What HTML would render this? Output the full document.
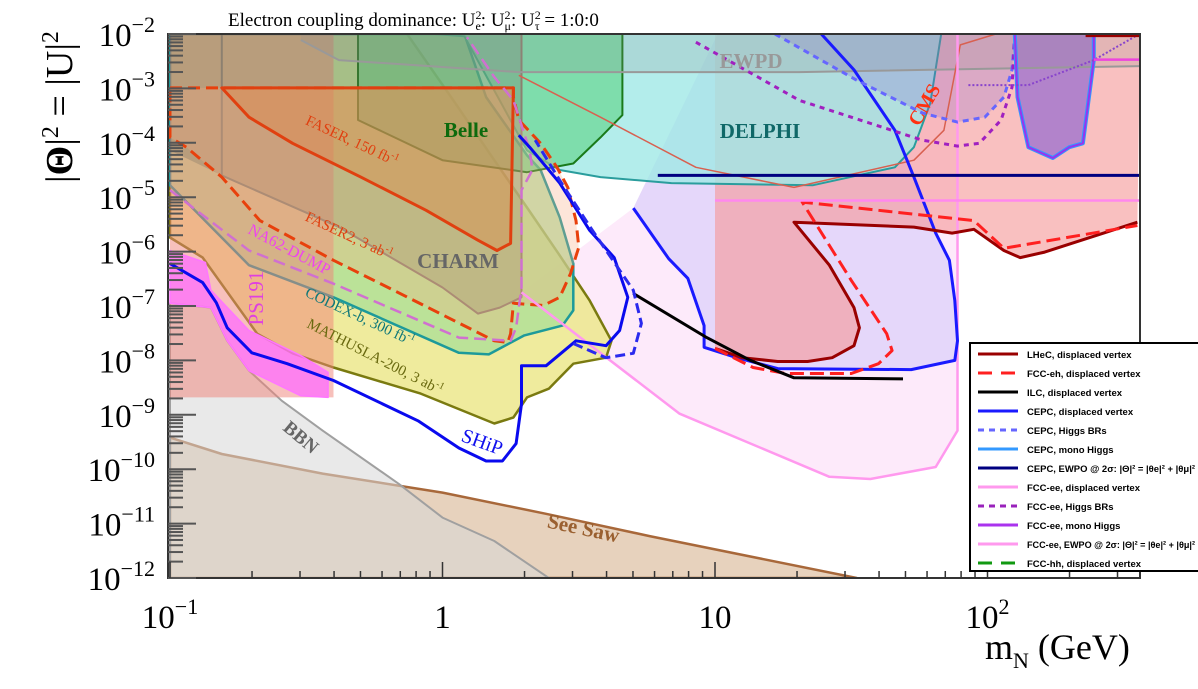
<!DOCTYPE html>
<html><head><meta charset="utf-8"><style>
html,body{margin:0;padding:0;background:#fff;}
svg{display:block;font-family:"Liberation Serif",serif;}
.leg{font-family:"Liberation Sans",sans-serif;font-weight:bold;font-size:9.5px;fill:#000;}
</style></head><body>
<svg id="chart" width="1198" height="689" viewBox="0 0 1198 689" xmlns="http://www.w3.org/2000/svg">
<rect x="0" y="0" width="1198" height="689" fill="#fff"/>
<defs><clipPath id="plotclip"><rect x="168" y="34" width="972" height="544"/></clipPath></defs>
<g id="regions" clip-path="url(#plotclip)"></g>
<g id="axes"></g>
<g id="labels">
<text x="350" y="145" transform="rotate(25 350 145)" text-anchor="middle" font-size="15" fill="#e04010">FASER, 150 fb<tspan font-size="10" dy="-6">-1</tspan></text>
<text x="347" y="240" transform="rotate(25 347 240)" text-anchor="middle" font-size="15" fill="#e04010">FASER2, 3 ab<tspan font-size="10" dy="-6">-1</tspan></text>
<text x="287" y="254" transform="rotate(28 287 254)" text-anchor="middle" font-size="16" fill="#ee44ee">NA62-DUMP</text>
<text x="358" y="321" transform="rotate(25 358 321)" text-anchor="middle" font-size="15" fill="#107878">CODEX-b, 300 fb<tspan font-size="10" dy="-6">-1</tspan></text>
<text x="373" y="361" transform="rotate(27 373 361)" text-anchor="middle" font-size="15" fill="#6a6a10">MATHUSLA-200, 3 ab<tspan font-size="10" dy="-6">-1</tspan></text>
<text x="263" y="298" transform="rotate(-90 263 298)" text-anchor="middle" font-size="21" fill="#e040e0">PS191</text>
<text x="458" y="268" text-anchor="middle" font-size="21" font-weight="bold" fill="#666">CHARM</text>
<text x="466" y="137" text-anchor="middle" font-size="21" font-weight="bold" fill="#0d6a0d">Belle</text>
<text x="760" y="138" text-anchor="middle" font-size="21" font-weight="bold" fill="#106868">DELPHI</text>
<text x="751" y="68" text-anchor="middle" font-size="21" font-weight="bold" fill="#999">EWPD</text>
<text x="930" y="108" transform="rotate(-60 930 108)" text-anchor="middle" font-size="20" font-weight="bold" fill="#ff3010">CMS</text>
<text x="297" y="442" transform="rotate(40 297 442)" text-anchor="middle" font-size="19" font-weight="bold" fill="#666">BBN</text>
<text x="582" y="535" transform="rotate(12 582 535)" text-anchor="middle" font-size="21" font-weight="bold" fill="#9a6030">See Saw</text>
<text x="480" y="448" transform="rotate(20 480 448)" text-anchor="middle" font-size="20" fill="#1010ee">SHiP</text>
</g>
<text x="228" y="26" font-size="19" fill="#000">Electron coupling dominance: U<tspan font-size="12" dy="-7">2</tspan><tspan font-size="12" dx="-6" dy="11">e</tspan><tspan dy="-4">: U</tspan><tspan font-size="12" dy="-7">2</tspan><tspan font-size="12" dx="-6" dy="11">μ</tspan><tspan dy="-4">: U</tspan><tspan font-size="12" dy="-7">2</tspan><tspan font-size="12" dx="-6" dy="11">τ</tspan><tspan dy="-4"> = 1:0:0</tspan></text>
<text x="72" y="107" transform="rotate(-90 72 107)" text-anchor="middle" font-size="38" fill="#000">|<tspan font-weight="bold">Θ</tspan>|<tspan font-size="24" dy="-14">2</tspan><tspan dy="14"> = |U|</tspan><tspan font-size="24" dy="-14">2</tspan></text>
<text x="985" y="659" font-size="36" fill="#000">m<tspan font-size="22" dy="9">N</tspan><tspan dy="-9"> (GeV)</tspan></text>
<g id="legend"></g>
</svg>
<script>
// ---- data (log10 mass [GeV], log10 |U|^2) ----
const seesawLm=[-1,-0.81,-0.44,0.0,0.38,0.76,1.52];
const seesawLe=[-9.42,-9.72,-10.08,-10.43,-10.82,-11.23,-12];
const bbnLm=[-1,-0.85,-0.79,-0.71,-0.59,-0.44,-0.16,0.0,0.19,0.39,-1];
const bbnLe=[-6.95,-7.03,-7.64,-8.19,-8.74,-9.29,-10.27,-10.89,-11.32,-12,-12];
const ps191Lm=[-1,-0.87,-0.85,-0.71,-0.52,-0.42,-0.42,-0.52,-0.71,-0.79,-0.85,-1];
const ps191Le=[-5.98,-6.2,-6.71,-7.45,-7.91,-8.22,-8.68,-8.65,-8.19,-7.64,-7.03,-6.95];
const columnLm=[-1,-0.40,-0.40,-1];
const columnLe=[-2,-2,-8.68,-8.68];
const codexLm=[-1,-0.71,-0.40,0.06,0.17,0.30,0.44,0.48,0.48,0.43,0.36,0.31,0.16,0.08,-1];
const codexLe=[-4.78,-6.25,-6.84,-7.86,-7.89,-7.54,-7.36,-7.08,-6.22,-5.37,-4.5,-4.23,-3.16,-2,-2];
const mathLm=[-1,-0.88,-0.68,-0.55,-0.40,-0.08,0.19,0.26,0.31,0.39,0.48,0.60,0.62,0.54,0.43,0.31,0.19,0.04,-0.13,-1];
const mathLe=[-5.74,-6.11,-7.51,-7.87,-8.13,-8.61,-9.16,-9.05,-8.68,-8.52,-8.06,-7.95,-7.64,-6.9,-6.07,-5.19,-4.32,-3.22,-2,-2];
const charmLm=[-1,0.29,0.29,0.21,0.13,0.0,-0.38,-0.81,-1];
const charmLe=[-2,-2,-6.84,-7.03,-7.14,-6.66,-5.55,-4.6,-4.14];
const charmEdgeLm=[-0.81,-0.81,-0.38,0.0,0.13,0.21,0.29,0.29];
const charmEdgeLe=[-2,-4.6,-5.55,-6.66,-7.14,-7.03,-6.84,-2];
const faser2Lm=[-1,0.26,0.26,0.28,0.36,0.42,0.46,0.49,0.50,0.47,0.43,0.37,0.26,0.25,0.24,0.19,-0.18,-0.40,-0.67,-0.81,-0.94,-1];
const faser2Le=[-2.99,-2.99,-3.16,-3.58,-4.01,-4.45,-4.82,-5.43,-5.92,-6.4,-6.84,-6.99,-6.95,-7.51,-7.67,-7.64,-6.71,-6.16,-5.43,-4.63,-4.08,-3.9];
const faserLm=[-0.81,0.26,0.25,0.20,0.13,-0.06,-0.30,-0.55,-0.71];
const faserLe=[-2.99,-2.99,-5.85,-5.98,-5.79,-5.24,-4.63,-4.01,-3.53];
const belleLm=[-0.31,-0.31,0.0,0.31,0.48,0.58,0.66,0.66];
const belleLe=[-2,-3.58,-4.32,-4.54,-4.38,-3.9,-3.49,-2];
const delphiLm=[-0.03,0.08,0.21,0.31,0.43,0.58,0.84,1.36,1.66,1.73,1.79,1.83];
const delphiLe=[-2,-2.04,-3.22,-4.14,-4.5,-4.63,-4.74,-4.78,-4.45,-4.08,-3.27,-2];
const ewpdLm=[-0.52,-0.38,0.28,1.31,2.56];
const ewpdLe=[-2.11,-2.48,-2.7,-2.7,-2.59];
const cmsLm=[0.28,0.58,0.93,1.29,1.73,1.84,1.90,2.03];
const cmsLe=[-2.76,-3.53,-4.45,-4.82,-4.32,-3.77,-2.2,-2];
const fccDvLm=[0.29,0.87,1.42,1.57,1.81,1.89,1.89,1.01,0.70];
const fccDvLe=[-6.75,-8.98,-10.14,-10.18,-9.96,-9.29,-2,-2,-5.2];
const cepcDvLm=[0.70,0.83,0.90,0.96,0.96,1.08,1.23,1.72,1.88,1.89,1.88,1.86,1.81,1.73,1.66,1.51,1.39];
const cepcDvLe=[-5.2,-6.13,-6.49,-7.36,-7.76,-7.95,-8.15,-8.17,-8.0,-7.64,-6.9,-6.16,-5.66,-4.63,-3.77,-2.66,-2];
const ehFillLm=[1.0,2.56,2.55,2.21,2.12,2.06,1.95,1.87,1.73,1.29,1.42,1.51,1.53,1.51,1.43,1.34,1.23,1.10,1.0];
const ehFillLe=[-2,-2,-5.46,-6.01,-6.11,-5.98,-5.59,-5.66,-5.55,-5.46,-6.25,-7.03,-7.4,-7.73,-7.95,-8.02,-8.02,-7.95,-7.78];
const lhecLm=[1.0,1.10,1.23,1.34,1.43,1.51,1.53,1.51,1.42,1.29,1.73,1.87,1.95,2.06,2.12,2.21,2.55];
const lhecLe=[-7.78,-7.95,-8.02,-8.02,-7.95,-7.73,-7.4,-7.03,-6.25,-5.46,-5.55,-5.66,-5.59,-5.98,-6.11,-6.01,-5.46];
const fccehLm=[1.0,1.14,1.26,1.50,1.60,1.65,1.63,1.50,1.32,1.95,2.06,2.55];
const fccehLe=[-7.78,-8.13,-8.24,-8.24,-8.06,-7.82,-7.51,-6.53,-5.09,-5.43,-5.94,-5.52];
const ilcLm=[0.70,0.97,1.13,1.29,1.69];
const ilcLe=[-6.77,-7.58,-8.0,-8.32,-8.34];
const cepcEwpoLm=[0.79,2.56];
const cepcEwpoLe=[-4.6,-4.6];
const fccEwpoLm=[1.0,2.56];
const fccEwpoLe=[-5.06,-5.06];
const cepcHbrLm=[1.22,1.52,1.76,1.89,1.99,2.06,2.09,2.10];
const cepcHbrLe=[-2,-2.85,-3.45,-3.62,-3.53,-3.16,-2.66,-2];
const fccHbrLm=[0.93,1.31,1.76,1.89,1.97,2.05,2.09,2.10];
const fccHbrLe=[-2.15,-3.22,-3.95,-4.06,-4.01,-3.58,-2.98,-2];
const monoLm=[2.10,2.11,2.15,2.24,2.30,2.35,2.39,2.39];
const monoLe=[-2,-3.16,-4.08,-4.28,-4.08,-4.01,-2.48,-2];
const dotHLm=[1.93,2.15,2.39,2.55];
const dotHLe=[-2.94,-2.94,-2.48,-2.02];
const shipLm=[-1,-0.88,-0.83,-0.79,-0.70,-0.57,-0.40,-0.09,0.06,0.16,0.22,0.27,0.29,0.29,0.38,0.49,0.60,0.65,0.68,0.63,0.54,0.43,0.32,0.28];
const shipLe=[-6.22,-6.57,-6.94,-7.4,-7.86,-8.06,-8.37,-9.11,-9.61,-9.85,-9.85,-9.53,-8.8,-8.1,-8.1,-7.64,-7.73,-7.45,-6.84,-6.11,-5.61,-4.74,-4.08,-3.86];
const shipDLm=[0.48,0.60,0.70,0.73,0.70,0.55,0.43,0.34];
const shipDLe=[-7.69,-7.95,-7.87,-7.32,-6.71,-5.61,-4.69,-3.95];
const na62Lm=[-1,-0.71,-0.40,0.06,0.25,0.27,0.29,0.29,0.33,0.32,0.26,0.19,0.09];
const na62Le=[-4.87,-5.98,-6.59,-7.58,-7.64,-7.4,-6.66,-4.87,-4.5,-4.14,-3.22,-2.79,-2.06];
const yTickExps=[-2,-3,-4,-5,-6,-7,-8,-9,-10,-11,-12];
const xTickLabels=["10^-1","1","10","10^2"];
const xTickLm=[-1,0,1,2];
const legendLabels=["LHeC, displaced vertex","FCC-eh, displaced vertex","ILC, displaced vertex","CEPC, displaced vertex","CEPC, Higgs BRs","CEPC, mono Higgs","CEPC, EWPO @ 2σ: |Θ|² = |θe|² + |θμ|²","FCC-ee, displaced vertex","FCC-ee, Higgs BRs","FCC-ee, mono Higgs","FCC-ee, EWPO @ 2σ: |Θ|² = |θe|² + |θμ|²","FCC-hh, displaced vertex"];

// ---- axes ----
const X0=170, DX=272.5, Y0=34, DY=54.4;
function X(lm){return X0+DX*(lm+1);}
function Y(le){return Y0+DY*(-2-le);}
const NS="http://www.w3.org/2000/svg";
const gR=document.getElementById('regions');
function pts(lms,les){return lms.map((m,i)=>X(m).toFixed(1)+','+Y(les[i]).toFixed(1)).join(' ');}
function shape(tag,lms,les,fill,stroke,w,dash,name){
  const el=document.createElementNS(NS,tag);
  el.setAttribute('points',pts(lms,les));
  el.setAttribute('fill',fill);
  el.setAttribute('stroke',stroke);
  el.setAttribute('stroke-width',w);
  if(dash)el.setAttribute('stroke-dasharray',dash);
  el.setAttribute('stroke-linejoin','round');
  
  
  gR.appendChild(el);return el;
}
shape('polygon',fccDvLm,fccDvLe,'rgba(252,225,248,0.7)','none',0,null,'fcc-ee-displaced-region');
shape('polygon',cepcDvLm.concat([1.01]),cepcDvLe.concat([-2]),'rgba(205,195,250,0.5)','none',0,null,'cepc-displaced-region');
shape('polygon',ehFillLm,ehFillLe,'rgba(245,150,150,0.6)','none',0,null,'lhec-fcceh-region');
shape('polygon',seesawLm.concat([-1]),seesawLe.concat([-12]),'rgba(215,180,145,0.6)','#a8683a',2.5,null,'seesaw-region');
shape('polygon',bbnLm,bbnLe,'rgba(215,215,215,0.55)','#a0a0a0',2,null,'bbn-region');
shape('polygon',mathLm,mathLe,'rgba(236,232,140,0.85)','#7a7a10',2.5,null,'mathusla-region');
shape('polygon',codexLm,codexLe,'rgba(165,222,150,0.7)','#1d9a9a',2.5,null,'codex-b-region');
shape('polygon',columnLm,columnLe,'rgba(240,130,120,0.5)','none',0,null,'ps191-column-region');
shape('polygon',ps191Lm,ps191Le,'rgba(255,110,255,0.75)','#ff77ff',1.5,null,'ps191-region');
shape('polygon',delphiLm,delphiLe,'rgba(160,232,230,0.8)','#2a9d9d',2,null,'delphi-region');
shape('polygon',belleLm,belleLe,'rgba(90,210,130,0.6)','#1a7a1a',2,null,'belle-region');
shape('polygon',charmLm,charmLe,'rgba(120,110,95,0.3)','none',0,null,'charm-region');
shape('polyline',charmEdgeLm,charmEdgeLe,'none','#8c8070',2,null,'charm-edge');
shape('polygon',faser2Lm,faser2Le,'rgba(248,170,130,0.3)','#e8400c',3,'12,6','faser2-region');
shape('polygon',faserLm,faserLe,'rgba(230,130,60,0.35)','#e04010',3,null,'faser-region');
shape('polygon',cepcHbrLm,cepcHbrLe,'rgba(130,100,210,0.25)','none',0,null,'cepc-higgs-br-region');
shape('polygon',monoLm,monoLe,'rgba(130,90,210,0.6)','none',0,null,'mono-higgs-region');
shape('polygon',ewpdLm.concat([2.56,-0.52]),ewpdLe.concat([-2,-2]),'rgba(140,140,140,0.2)','none',0,null,'ewpd-region');
shape('polyline',ewpdLm,ewpdLe,'none','#999',2,null,'ewpd-edge');
shape('polyline',cmsLm,cmsLe,'none','#d86050',1.5,null,'cms-edge');
shape('polyline',fccDvLm.slice(0,7),fccDvLe.slice(0,7),'none','#ff99ee',2.5,null,'fcc-ee-displaced-line');
shape('polyline',cepcDvLm,cepcDvLe,'none','#1a1aff',3,null,'cepc-displaced-line');
shape('polyline',lhecLm,lhecLe,'none','#990000',3,null,'lhec-line');
shape('polyline',fccehLm,fccehLe,'none','#ff2020',3,'14,6','fcc-eh-line');
shape('polyline',ilcLm,ilcLe,'none','#000',3,null,'ilc-line');
shape('polyline',cepcEwpoLm,cepcEwpoLe,'none','#000080',3,null,'cepc-ewpo-line');
shape('polyline',fccEwpoLm,fccEwpoLe,'none','#ff88ee',2.5,null,'fcc-ee-ewpo-line');
shape('polyline',cepcHbrLm,cepcHbrLe,'none','#6666ff',3,'6,5','cepc-higgs-br-line');
shape('polyline',fccHbrLm,fccHbrLe,'none','#a020c0',3,'5,5','fcc-ee-higgs-br-line');
shape('polyline',monoLm,monoLe,'none','#3399ff',4,null,'cepc-mono-higgs-line');
shape('polyline',monoLm,monoLe,'none','#9933ee',2,null,'fcc-ee-mono-higgs-line');
shape('polyline',dotHLm,dotHLe,'none','#8844cc',2,'2,2','fcc-ee-dotted-line');
shape('polyline',[2.39,2.56],[-2.47,-2.47],'none','#ee44dd',2.5,null,'fcc-ee-short-line');
shape('polyline',[2.36,2.56],[-2.02,-2.02],'none','#990000',4,null,'lhec-top-line');
shape('polyline',na62Lm,na62Le,'none','#d070d0',2.5,'12,6','na62-line');
shape('polyline',shipLm,shipLe,'none','#0a0aee',3,null,'ship-line');
shape('polyline',shipDLm,shipDLe,'none','#2a2aee',3,'10,5','ship-dashed-line');

// axes
const gA=document.getElementById('axes');
function line(x1,y1,x2,y2,w,c,name){
  const el=document.createElementNS(NS,'line');
  el.setAttribute('x1',x1);el.setAttribute('y1',y1);el.setAttribute('x2',x2);el.setAttribute('y2',y2);
  el.setAttribute('stroke',c);el.setAttribute('stroke-width',w);
  
  
  gA.appendChild(el);
}
const frame=document.createElementNS(NS,'rect');
frame.setAttribute('x',168);frame.setAttribute('y',34);frame.setAttribute('width',972);frame.setAttribute('height',544);
frame.setAttribute('fill','none');frame.setAttribute('stroke','#333');frame.setAttribute('stroke-width',2);


gA.appendChild(frame);
yTickExps.forEach(e=>{
  line(168,Y(e),196,Y(e),2,'#555','y-major-tick');
  if(e>-12){for(let k=2;k<10;k++){const yy=Y(e-1+Math.log10(k));line(168,yy,183,yy,2,'#555','y-minor-tick');}}
  const t=document.createElementNS(NS,'text');
  t.setAttribute('x',155);t.setAttribute('y',Y(e)+12);t.setAttribute('text-anchor','end');t.setAttribute('font-size','33');
  t.innerHTML='10<tspan font-size="22" dy="-14">−'+(-e)+'</tspan>';
  
  
  gA.appendChild(t);
});
for(let d=-1;d<3;d++){for(let k=1;k<10;k++){const lm=d+Math.log10(k);if(X(lm)>1139)continue;
  line(X(lm),578,X(lm),k===1?562:571,1.5,'#333',k===1?'x-major-tick':'x-minor-tick');}}
xTickLabels.forEach((s,i)=>{
  const t=document.createElementNS(NS,'text');
  t.setAttribute('x',X(xTickLm[i]));t.setAttribute('y',628);t.setAttribute('text-anchor','middle');t.setAttribute('font-size','33');
  const p=s.split('^');
  t.innerHTML=p[0]+(p[1]?'<tspan font-size="22" dy="-14">'+p[1].replace('-','−')+'</tspan>':'');
  
  
  gA.appendChild(t);
});

// legend
const gL=document.getElementById('legend');
const lcol=['#990000','#ff2020','#000','#1a1aff','#6666ff','#3399ff','#000080','#ff99ee','#9922bb','#aa33ee','#ff99ee','#119911'];
const ldash=[null,'14,9',null,null,'6,5',null,null,null,'6,5',null,null,'14,9'];
const box=document.createElementNS(NS,'rect');
box.setAttribute('x',970);box.setAttribute('y',343);box.setAttribute('width',240);box.setAttribute('height',228);
box.setAttribute('fill','#fff');box.setAttribute('stroke','#000');box.setAttribute('stroke-width',2);


gL.appendChild(box);
legendLabels.forEach((s,i)=>{
  const y=354+19*i;
  const l=document.createElementNS(NS,'line');
  l.setAttribute('x1',978);l.setAttribute('x2',1018);l.setAttribute('y1',y);l.setAttribute('y2',y);
  l.setAttribute('stroke',lcol[i]);l.setAttribute('stroke-width',3);
  if(ldash[i])l.setAttribute('stroke-dasharray',ldash[i]);
  
  
  gL.appendChild(l);
  const t=document.createElementNS(NS,'text');
  t.setAttribute('x',1027);t.setAttribute('y',y+4);t.setAttribute('class','leg');
  t.textContent=s;
  if(s.length>30){t.setAttribute('textLength','168');t.setAttribute('lengthAdjust','spacingAndGlyphs');}
  
  
  gL.appendChild(t);
});
</script>
</body></html>
